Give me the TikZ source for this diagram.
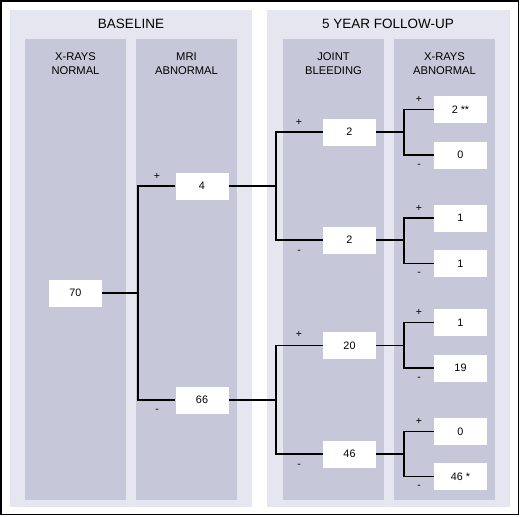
\documentclass[tikz,border=0pt]{standalone}
\usepackage{fontspec}
\setmainfont{Liberation Sans}
\definecolor{panelbg}{RGB}{230, 230, 240}
\definecolor{colbg}{RGB}{198, 199, 217}
\usepackage{tikz}
\usetikzlibrary{calc}

\tikzset{
  panel/.style  = {fill = panelbg, draw = none},
  column/.style = {fill = colbg, draw = none},
  countbox/.style = {
    fill           = white,
    draw           = none,
    minimum width  = 53pt,
    minimum height = 27pt,
    inner sep      = 0pt,
    font           = \fontsize{10.8}{13}\selectfont
  },
  sign/.style   = {font = \fontsize{10.5}{12}\selectfont, inner sep = 0pt},
  title/.style  = {font = \fontsize{13.5}{16}\selectfont},
  head/.style   = {font = \fontsize{11.2}{14}\selectfont, align = center},
  link/.style   = {line width = 1.2pt, black}
}

\begin{document}
\begin{tikzpicture}[x=1pt, y=-1pt]
  \useasboundingbox (0,0) rectangle (520,517);
  \draw[line width = 1.8pt] (1,1) rectangle (518.5,514.5);

  % panels and columns
  \fill[panel]  (10,10)  rectangle (252,507);
  \fill[panel]  (267,10) rectangle (510,507);
  \fill[column] (25,39)  rectangle (126,500);
  \fill[column] (136,39) rectangle (237,500);
  \fill[column] (283,39) rectangle (384,500);
  \fill[column] (394,39) rectangle (495,500);

  \node[title] (baseline) at (131,24) {BASELINE};
  \node[title] (followup) at (388,24) {5 YEAR FOLLOW-UP};
  \node[head] (hxn) at (75.5,64)  {X-RAYS\\NORMAL};
  \node[head] (hma) at (186.5,64) {MRI\\ABNORMAL};
  \node[head] (hjb) at (333.5,64) {JOINT\\BLEEDING};
  \node[head] (hxa) at (444.5,64) {X-RAYS\\ABNORMAL};

  % count boxes
  \node[countbox] (b70) at (75.5,293) {70};
  \node[countbox] (b4)  at (202,186)  {4};
  \node[countbox] (b66) at (202,400)  {66};
  \node[countbox] (j2a) at (349.5,132) {2};
  \node[countbox] (j2b) at (349.5,240) {2};
  \node[countbox] (j20) at (349.5,345.5) {20};
  \node[countbox] (j46) at (349.5,454) {46};
  \node[countbox] (x2)  at (460.5,109.5) {2 **};
  \node[countbox] (x0a) at (460.5,155) {0};
  \node[countbox] (x1a) at (460.5,218) {1};
  \node[countbox] (x1b) at (460.5,263.5) {1};
  \node[countbox] (x1c) at (460.5,322.5) {1};
  \node[countbox] (x19) at (460.5,368) {19};
  \node[countbox] (x0b) at (460.5,431.5) {0};
  \node[countbox] (x46) at (460.5,476.5) {46 *};

  % forks
  \coordinate (f70) at (138,293);
  \coordinate (f4)  at (276,186);
  \coordinate (f66) at (276,400);
  \coordinate (fa)  at (404,132);
  \coordinate (fb)  at (404,240);
  \coordinate (fc)  at (404,345.5);
  \coordinate (fd)  at (404,454);

  \draw[link] (b70.east) -- (f70);
  \draw[link] (b4.west) -| (f70) |- (b66.west);
  \draw[link] (b4.east) -- (f4);
  \draw[link] (j2a.west) -| (f4) |- (j2b.west);
  \draw[link] (b66.east) -- (f66);
  \draw[link] (j20.west) -| (f66) |- (j46.west);
  \draw[link] (j2a.east) -- (fa);
  \draw[link] (x2.west) -| (fa) |- (x0a.west);
  \draw[link] (j2b.east) -- (fb);
  \draw[link] (x1a.west) -| (fb) |- (x1b.west);
  \draw[link] (j20.east) -- (fc);
  \draw[link] (x1c.west) -| (fc) |- (x19.west);
  \draw[link] (j46.east) -- (fd);
  \draw[link] (x0b.west) -| (fd) |- (x46.west);

  % signs
  \node[sign] (p4)  at (157,176) {+};
  \node[sign] (m66) at (157,411) {-};
  \node[sign] (pj1) at (299,122) {+};
  \node[sign] (mj1) at (299,252) {-};
  \node[sign] (pj2) at (299,334) {+};
  \node[sign] (mj2) at (299,466) {-};
  \node[sign] (px1) at (419,99)  {+};
  \node[sign] (mx1) at (419,166) {-};
  \node[sign] (px2) at (419,208) {+};
  \node[sign] (mx2) at (419,274) {-};
  \node[sign] (px3) at (419,312) {+};
  \node[sign] (mx3) at (419,379) {-};
  \node[sign] (px4) at (419,421) {+};
  \node[sign] (mx4) at (419,487) {-};
\end{tikzpicture}
\end{document}
